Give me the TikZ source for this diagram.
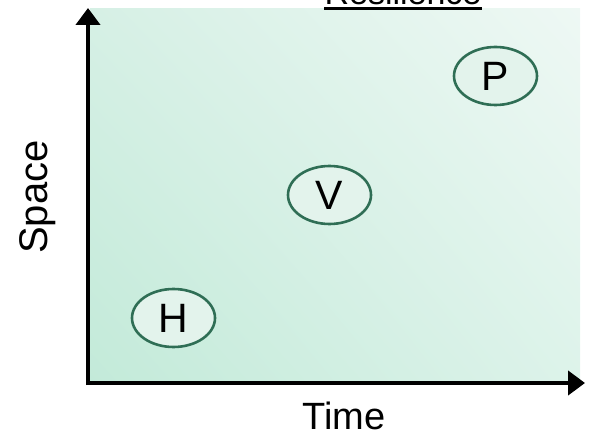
\documentclass[tikz,border=0pt]{standalone}
\usepackage{fontspec}
\setmainfont{Liberation Sans}
\usetikzlibrary{arrows.meta,calc,shadings,shapes.geometric}
\definecolor{bgLL}{HTML}{C3EAD9}
\definecolor{bgUL}{HTML}{D6F0E5}
\definecolor{bgLR}{HTML}{DDF3EA}
\definecolor{bgUR}{HTML}{EEF8F4}
\definecolor{ringcol}{HTML}{2F6E55}
\definecolor{ringfill}{HTML}{E3F3EC}
\tikzset{
  axis/.style={line width=4.5pt,-{Triangle[width=24pt,length=17pt]}},
  state/.style={ellipse,draw=ringcol,line width=2.6pt,fill=ringfill,minimum width=83pt,minimum height=58pt,inner sep=0pt,font=\fontsize{41}{44}\selectfont},
  label/.style={font=\fontsize{38}{42}\selectfont,inner sep=0pt},
}
\begin{document}
\begin{tikzpicture}[x=1pt,y=-1pt]
\useasboundingbox (0,0) rectangle (591,438);
\shade[lower left=bgLL,upper left=bgUL,lower right=bgLR,upper right=bgUR] (90,382) rectangle (580,9);
\node[label,anchor=base,font=\fontsize{34}{40}\selectfont] (title) at (403,4.5) {Resilience};
\coordinate (ulA) at ($(title.base west)+(0,4.5)$);
\coordinate (ulB) at ($(title.base east)+(0,4.5)$);
\draw[line width=3pt] (ulA) -- (ulB);
\coordinate (orig) at (88,383);
\coordinate (yend) at (88,8);
\coordinate (xend) at (585,383);
\draw[axis] ($(orig)+(0,2)$) -- (yend);
\draw[axis] ($(orig)+(-2,0)$) -- (xend);
\node[state] (H) at (173.5,318) {H};
\node[state] (V) at (329.5,195) {V};
\node[state] (P) at (495.5,76) {P};
\node[label,rotate=90,font=\fontsize{40}{44}\selectfont] (space) at (38,197) {Space};
\node[label] (time) at (344,416) {Time};
\end{tikzpicture}
\end{document}
